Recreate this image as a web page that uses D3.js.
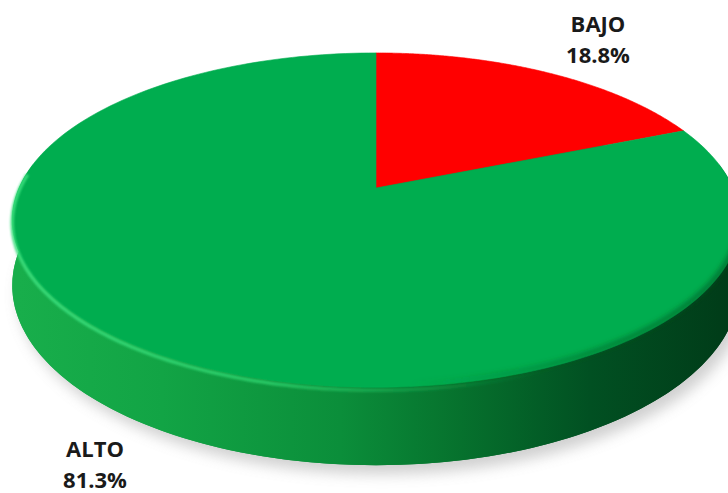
<!DOCTYPE html>
<html>
<head>
<meta charset="utf-8">
<script src="https://cdn.jsdelivr.net/npm/d3@7"></script>
<style>
  html, body { margin: 0; padding: 0; background: #fff; }
  svg { display: block; }
</style>
</head>
<body>
<svg id="chart" width="728" height="493"></svg>
<script>
// ---- data ----
const categories = ["BAJO", "ALTO"];
const values = [18.8, 81.3];
const valueLabels = ["18.8%", "81.3%"];
const sliceColors = ["#FF0000", "#00AD4F"];

// ---- geometry ----
const cx = 376, cy = 188;     // pie centre on top face
const R = 357;                // horizontal radius
const Ry = 161;               // vertical radius (before perspective)
const k = 0.192;              // perspective factor
const D = 63;                 // thickness

const svg = d3.select("#chart");
const defs = svg.append("defs");

function proj(a, r = 1, drop = 0) {
  const u = r * Math.sin(a), v = r * Math.cos(a);
  const s = 1 / (1 + k * v);
  return [cx + R * u * s, cy - Ry * v * s + drop * s];
}
function rim(a0, a1, drop = 0, n = 120) {
  const pts = [];
  for (let i = 0; i <= n; i++) pts.push(proj(a0 + (a1 - a0) * i / n, 1, drop));
  return pts;
}
const line = d3.line();

const pie = d3.pie().sort(null).value(d => d);
const arcs = pie(values);

// gradients & filters
const sideGrad = defs.append("linearGradient").attr("id", "sideGrad")
  .attr("gradientUnits", "userSpaceOnUse")
  .attr("x1", cx - R).attr("x2", cx + R).attr("y1", 0).attr("y2", 0);
[["0", "#18ae4b"], ["0.2", "#12a445"], ["0.45", "#0b8e3a"], ["0.62", "#06712d"], ["0.8", "#015022"], ["1", "#003b18"]]
  .forEach(([o, c]) => sideGrad.append("stop").attr("offset", o).attr("stop-color", c));

const bevelGrad = defs.append("linearGradient").attr("id", "bevelGrad")
  .attr("gradientUnits", "userSpaceOnUse")
  .attr("x1", cx - R).attr("x2", cx + R).attr("y1", 0).attr("y2", 0);
[["0", "#3be07e", 0.9], ["0.35", "#2fd46f", 0.8], ["0.58", "#1cb85a", 0.35], ["0.75", "#0a8a3a", 0]]
  .forEach(([o, c, op]) => bevelGrad.append("stop").attr("offset", o).attr("stop-color", c).attr("stop-opacity", op));

const shadeGrad = defs.append("linearGradient").attr("id", "shadeGrad")
  .attr("gradientUnits", "userSpaceOnUse")
  .attr("x1", cx - R).attr("x2", cx + R).attr("y1", 0).attr("y2", 0);
[["0.55", "#006a2a", 0], ["0.8", "#005a24", 0.5], ["1", "#004a1e", 0.6]]
  .forEach(([o, c, op]) => shadeGrad.append("stop").attr("offset", o).attr("stop-color", c).attr("stop-opacity", op));

const shadowF = defs.append("filter").attr("id", "shadow")
  .attr("x", "-20%").attr("y", "-20%").attr("width", "140%").attr("height", "140%");
shadowF.append("feGaussianBlur").attr("stdDeviation", 7);

const blur1 = defs.append("filter").attr("id", "blur1");
blur1.append("feGaussianBlur").attr("stdDeviation", 1.2);
const blur2 = defs.append("filter").attr("id", "blur2");
blur2.append("feGaussianBlur").attr("stdDeviation", 2.5);

// shadow
const fullBottom = rim(0, 2 * Math.PI, D);
svg.append("path")
  .attr("d", line(fullBottom) + "Z")
  .attr("transform", "translate(6,9)")
  .attr("fill", "#8a8a8a")
  .attr("opacity", 0.4)
  .attr("filter", "url(#shadow)");

// bottom silhouette
svg.append("path")
  .attr("d", line(fullBottom) + "Z")
  .attr("fill", "url(#sideGrad)");

// side band (front half)
const a0 = Math.PI / 2 - 0.15, a1 = 3 * Math.PI / 2 + 0.15;
const sidePts = rim(a0, a1, 0).concat(rim(a0, a1, D).reverse());
svg.append("path")
  .attr("d", line(sidePts) + "Z")
  .attr("fill", "url(#sideGrad)");

// top slices
const tops = svg.append("g");
arcs.forEach((d, i) => {
  const pts = [[cx, cy]].concat(rim(d.startAngle, d.endAngle, 0, 200));
  tops.append("path")
    .attr("d", line(pts) + "Z")
    .attr("fill", sliceColors[i])
    .attr("stroke", sliceColors[i])
    .attr("stroke-width", 0.6);
});

// soft shading along the right front rim
svg.append("path")
  .attr("d", line(rim(Math.PI * 0.55, Math.PI * 1.05, -2, 80)))
  .attr("fill", "none")
  .attr("stroke", "url(#shadeGrad)")
  .attr("stroke-width", 5)
  .attr("filter", "url(#blur2)");

// bevel highlight along the front-left rim
svg.append("path")
  .attr("d", line(rim(3 * Math.PI / 2 + 0.1, Math.PI * 0.85, 2.5, 120)))
  .attr("fill", "none")
  .attr("stroke", "url(#bevelGrad)")
  .attr("stroke-width", 3.5)
  .attr("filter", "url(#blur1)");

// labels
const labelPos = [[598, 32], [95, 457]];
arcs.forEach((d, i) => {
  const t = svg.append("text")
    .attr("x", labelPos[i][0])
    .attr("y", labelPos[i][1])
    .attr("text-anchor", "middle")
    .attr("font-family", "'Open Sans', sans-serif")
    .attr("font-weight", 700)
    .attr("font-size", 22)
    .attr("fill", "#1a1a1a");
  t.append("tspan").attr("x", labelPos[i][0]).attr("dy", 0).text(categories[i]);
  t.append("tspan").attr("x", labelPos[i][0]).attr("dy", 31).text(valueLabels[i]);
});
</script>
</body>
</html>
